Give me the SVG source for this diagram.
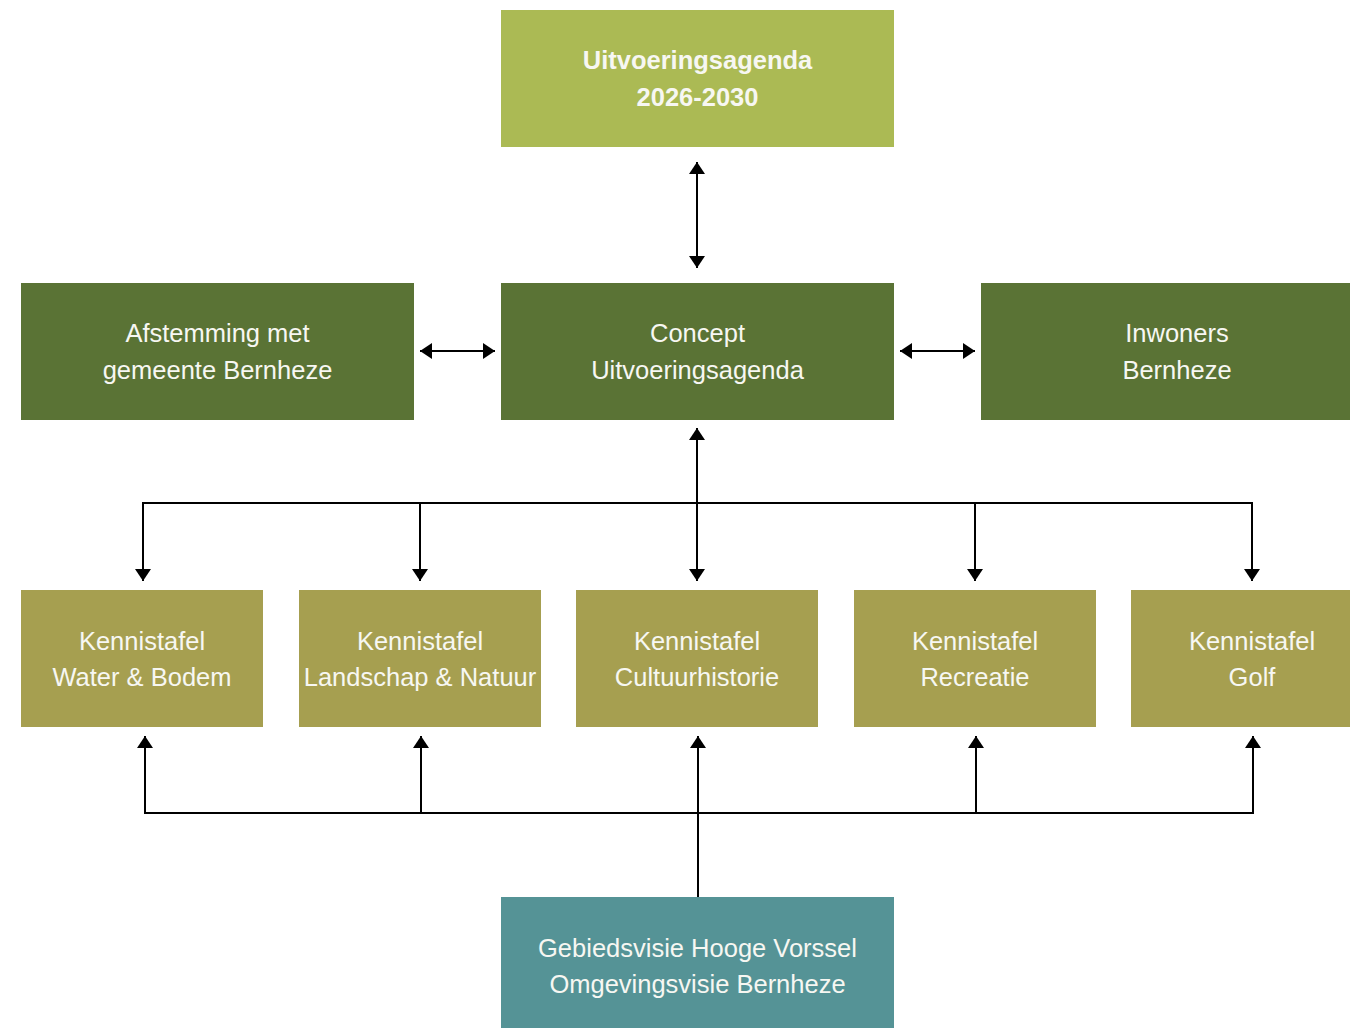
<svg xmlns="http://www.w3.org/2000/svg" width="1350" height="1028" viewBox="0 0 1350 1028">
<style>
text{font-family:"Liberation Sans",Arial,sans-serif;font-size:25.5px;fill:#f7f7f2;text-anchor:middle}
.b{font-weight:bold}
.c{fill:none;stroke:#000;stroke-width:2}
</style>
<defs>
<marker id="ah" viewBox="0 0 12 16" refX="12" refY="8" markerWidth="12" markerHeight="16" markerUnits="userSpaceOnUse" orient="auto-start-reverse">
<path d="M0,0 L12,8 L0,16 Z" fill="#000"/>
</marker>
</defs>
<rect width="1350" height="1028" fill="#fff"/>
<g id="connectors">
<line class="c" x1="697" y1="162" x2="697" y2="268" marker-start="url(#ah)" marker-end="url(#ah)"/>
<line class="c" x1="420" y1="351" x2="495" y2="351" marker-start="url(#ah)" marker-end="url(#ah)"/>
<line class="c" x1="900" y1="351" x2="975" y2="351" marker-start="url(#ah)" marker-end="url(#ah)"/>
<line class="c" x1="697" y1="428" x2="697" y2="581" marker-start="url(#ah)" marker-end="url(#ah)"/>
<polyline class="c" points="143,581 143,503 1252,503 1252,581" marker-start="url(#ah)" marker-end="url(#ah)"/>
<line class="c" x1="420" y1="503" x2="420" y2="581" marker-end="url(#ah)"/>
<line class="c" x1="975" y1="503" x2="975" y2="581" marker-end="url(#ah)"/>
<line class="c" x1="698" y1="897" x2="698" y2="736" marker-end="url(#ah)"/>
<polyline class="c" points="145,736 145,813 1253,813 1253,736" marker-start="url(#ah)" marker-end="url(#ah)"/>
<line class="c" x1="421" y1="813" x2="421" y2="736" marker-end="url(#ah)"/>
<line class="c" x1="976" y1="813" x2="976" y2="736" marker-end="url(#ah)"/>
</g>
<g id="n-top"><rect x="501" y="10" width="393" height="137" fill="#abba54"/>
<text class="b" x="697.5" y="69">Uitvoeringsagenda</text><text class="b" x="697.5" y="106">2026-2030</text></g>
<g id="n-afstemming"><rect x="21" y="283" width="393" height="137" fill="#5a7335"/>
<text x="217.5" y="342">Afstemming met</text><text x="217.5" y="379">gemeente Bernheze</text></g>
<g id="n-concept"><rect x="501" y="283" width="393" height="137" fill="#5a7335"/>
<text x="697.5" y="342">Concept</text><text x="697.5" y="379">Uitvoeringsagenda</text></g>
<g id="n-inwoners"><rect x="981" y="283" width="369" height="137" fill="#5a7335"/>
<text x="1177" y="342">Inwoners</text><text x="1177" y="379">Bernheze</text></g>
<g id="n-k1"><rect x="21" y="590" width="242" height="137" fill="#a69f50"/>
<text x="142" y="650">Kennistafel</text><text x="142" y="686">Water &amp; Bodem</text></g>
<g id="n-k2"><rect x="299" y="590" width="242" height="137" fill="#a69f50"/>
<text x="420" y="650">Kennistafel</text><text x="420" y="686">Landschap &amp; Natuur</text></g>
<g id="n-k3"><rect x="576" y="590" width="242" height="137" fill="#a69f50"/>
<text x="697" y="650">Kennistafel</text><text x="697" y="686">Cultuurhistorie</text></g>
<g id="n-k4"><rect x="854" y="590" width="242" height="137" fill="#a69f50"/>
<text x="975" y="650">Kennistafel</text><text x="975" y="686">Recreatie</text></g>
<g id="n-k5"><rect x="1131" y="590" width="219" height="137" fill="#a69f50"/>
<text x="1252" y="650">Kennistafel</text><text x="1252" y="686">Golf</text></g>
<g id="n-gebied"><rect x="501" y="897" width="393" height="131" fill="#559396"/>
<text x="697.5" y="957">Gebiedsvisie Hooge Vorssel</text><text x="697.5" y="993">Omgevingsvisie Bernheze</text></g>
</svg>
